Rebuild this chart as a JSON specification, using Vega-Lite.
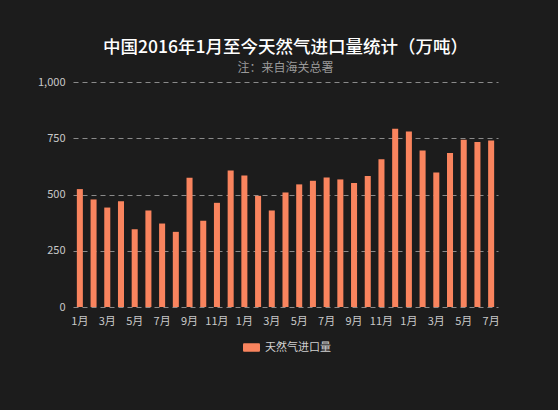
{
  "$schema": "https://vega.github.io/schema/vega-lite/v6.json",
  "autosize": {"type": "none"},
  "width": 425,
  "height": 225,
  "padding": {"left": 73, "top": 82, "right": 60, "bottom": 103},
  "background": "#1c1c1c",
  "config": {
    "view": {"stroke": null},
    "font": "Noto Sans CJK SC"
  },
  "title": {
    "text": "中国2016年1月至今天然气进口量统计（万吨）",
    "subtitle": "注：来自海关总署",
    "anchor": "middle",
    "color": "#ffffff",
    "fontSize": 17.5,
    "fontWeight": 500,
    "subtitleColor": "#9a9a9a",
    "subtitleFontSize": 12,
    "subtitlePadding": 7,
    "offset": 2
  },
  "data": {
    "values": [
      {"month": "2016-01", "value": 524},
      {"month": "2016-02", "value": 478},
      {"month": "2016-03", "value": 442},
      {"month": "2016-04", "value": 470},
      {"month": "2016-05", "value": 346},
      {"month": "2016-06", "value": 429},
      {"month": "2016-07", "value": 371},
      {"month": "2016-08", "value": 334},
      {"month": "2016-09", "value": 574},
      {"month": "2016-10", "value": 383},
      {"month": "2016-11", "value": 463},
      {"month": "2016-12", "value": 607},
      {"month": "2017-01", "value": 584},
      {"month": "2017-02", "value": 494},
      {"month": "2017-03", "value": 429},
      {"month": "2017-04", "value": 509},
      {"month": "2017-05", "value": 545},
      {"month": "2017-06", "value": 561},
      {"month": "2017-07", "value": 576},
      {"month": "2017-08", "value": 567},
      {"month": "2017-09", "value": 551},
      {"month": "2017-10", "value": 582},
      {"month": "2017-11", "value": 657},
      {"month": "2017-12", "value": 792},
      {"month": "2018-01", "value": 780},
      {"month": "2018-02", "value": 696},
      {"month": "2018-03", "value": 598},
      {"month": "2018-04", "value": 684},
      {"month": "2018-05", "value": 743},
      {"month": "2018-06", "value": 733},
      {"month": "2018-07", "value": 740}
    ]
  },
  "mark": {"type": "bar"},
  "encoding": {
    "x": {
      "field": "month",
      "type": "ordinal",
      "title": null,
      "scale": {"paddingInner": 0.56, "paddingOuter": 0.28},
      "axis": {
        "domain": false,
        "ticks": false,
        "labelAngle": 0,
        "labelColor": "#c8c8c8",
        "labelFontSize": 11,
        "labelPadding": 8,
        "labelExpr": "toNumber(slice(datum.value, 5)) % 2 == 1 ? toNumber(slice(datum.value, 5)) + '月' : ''"
      }
    },
    "y": {
      "field": "value",
      "type": "quantitative",
      "title": null,
      "scale": {"domain": [0, 1000]},
      "axis": {
        "values": [0, 250, 500, 750, 1000],
        "format": ",.0f",
        "domain": false,
        "ticks": false,
        "labelColor": "#c8c8c8",
        "labelFontSize": 11,
        "labelPadding": 8,
        "gridColor": "#8a8a8a",
        "gridDash": [5, 4],
        "gridWidth": 1
      }
    },
    "color": {
      "datum": "天然气进口量",
      "type": "nominal",
      "scale": {"range": ["#f9845e"]},
      "legend": {
        "title": null,
        "orient": "none",
        "legendX": 170,
        "legendY": 257,
        "symbolType": "M-0.85,-0.5H0.85A0.15,0.15 0 0 1 1,-0.35V0.35A0.15,0.15 0 0 1 0.85,0.5H-0.85A0.15,0.15 0 0 1 -1,0.35V-0.35A0.15,0.15 0 0 1 -0.85,-0.5Z",
        "symbolSize": 289,
        "symbolStrokeWidth": 0,
        "labelColor": "#d0d0d0",
        "labelFontSize": 11,
        "labelOffset": 5
      }
    }
  }
}
